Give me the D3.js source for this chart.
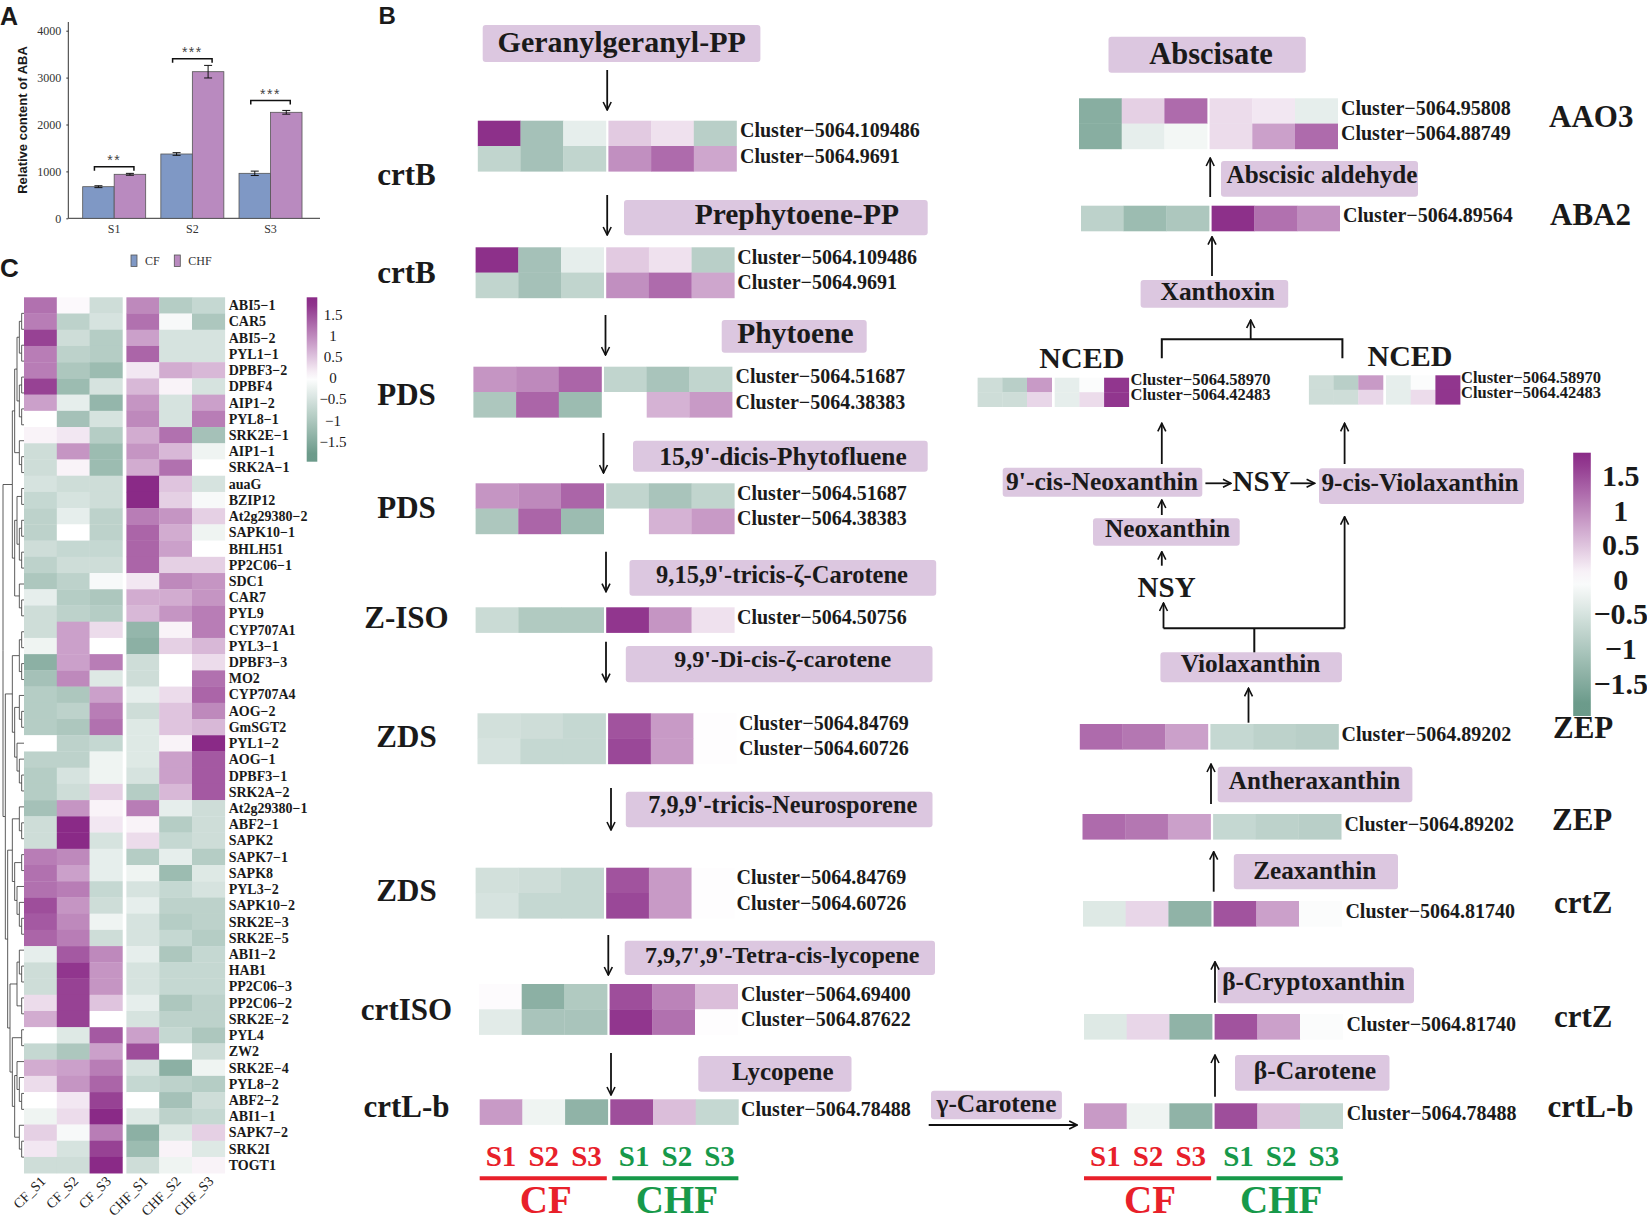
<!DOCTYPE html>
<html>
<head>
<meta charset="utf-8">
<script src="https://cdn.jsdelivr.net/npm/d3@7"></script>
<style>
  body { margin: 0; background: #fff; }
  svg { display: block; }
</style>
</head>
<body>
<script>
// ---------- data: panel A ----------
var stages = ["S1", "S2", "S3"];
var groups = ["CF", "CHF"];
var abaCF = [674, 1371, 959];
var abaCHF = [938, 3126, 2260];
var errCF = [20, 28, 47];
var errCHF = [20, 134, 40];
var sigMarks = ["**", "***", "***"];
var sigLevel = [1100, 3400, 2510];
var yTicksA = [0, 1000, 2000, 3000, 4000];

// ---------- data: panel C ----------
var samples = ["CF_S1", "CF_S2", "CF_S3", "CHF_S1", "CHF_S2", "CHF_S3"];
var genesC = ["ABI5−1", "CAR5", "ABI5−2", "PYL1−1", "DPBF3−2", "DPBF4", "AIP1−2", "PYL8−1",
  "SRK2E−1", "AIP1−1", "SRK2A−1", "auaG", "BZIP12", "At2g29380−2", "SAPK10−1", "BHLH51",
  "PP2C06−1", "SDC1", "CAR7", "PYL9", "CYP707A1", "PYL3−1", "DPBF3−3", "MO2", "CYP707A4",
  "AOG−2", "GmSGT2", "PYL1−2", "AOG−1", "DPBF3−1", "SRK2A−2", "At2g29380−1", "ABF2−1",
  "SAPK2", "SAPK7−1", "SAPK8", "PYL3−2", "SAPK10−2", "SRK2E−3", "SRK2E−5", "ABI1−2", "HAB1",
  "PP2C06−3", "PP2C06−2", "SRK2E−2", "PYL4", "ZW2", "SRK2E−4", "PYL8−2", "ABF2−2", "ABI1−1",
  "SAPK7−2", "SRK2I", "TOGT1"];
var exprC = [
  [1.2, 0.05, -0.6, 1.0, -0.9, -0.7],
  [1.1, -0.8, -0.5, 1.2, -0.1, -1.0],
  [1.6, -0.6, -0.9, 0.8, -0.5, -0.5],
  [1.1, -0.8, -0.9, 1.3, -0.5, -0.5],
  [1.1, -1.0, -1.2, 0.2, 0.7, 0.6],
  [1.6, -1.2, -0.5, 0.6, 0.1, -0.5],
  [0.8, -0.3, -1.3, 0.9, -0.5, 0.8],
  [0.0, -1.1, -0.5, 1.0, -0.5, 1.1],
  [0.1, 0.2, -0.9, 0.7, 1.2, -1.1],
  [-0.6, 0.9, -1.2, 0.9, 0.6, -0.2],
  [-0.6, 0.1, -1.2, 0.7, 1.2, 0.0],
  [-0.5, -0.6, -0.6, 1.8, 0.5, -0.5],
  [-0.7, -0.5, -0.6, 1.8, 0.4, -0.1],
  [-0.8, -0.3, -0.8, 1.1, 0.9, 0.4],
  [-0.8, 0.0, -0.8, 1.3, 0.7, -0.2],
  [-0.6, -0.7, -0.7, 1.3, 0.8, 0.0],
  [-0.8, -0.6, -0.6, 1.3, 0.4, 0.4],
  [-1.0, -0.8, -0.1, 0.2, 1.0, 0.9],
  [-0.3, -0.9, -1.0, 0.7, 0.7, 0.9],
  [-0.6, -0.8, -0.9, 0.6, 0.9, 1.1],
  [-0.6, 0.8, 0.3, -1.3, 0.1, 1.1],
  [-0.2, 0.8, 0.0, -1.4, 0.4, 0.6],
  [-1.4, 0.8, 1.1, -0.6, 0.0, 0.3],
  [-1.1, 1.0, -0.4, -0.6, 0.0, 1.2],
  [-0.9, -1.0, 0.8, -0.3, 0.3, 1.3],
  [-0.9, -0.8, 1.1, -0.6, 0.5, 1.0],
  [-0.9, -1.0, 1.2, -0.4, 0.5, 0.6],
  [0.0, -0.8, -0.7, -0.4, 0.1, 1.8],
  [-0.8, -0.8, -0.2, -0.4, 0.8, 1.4],
  [-0.9, -0.5, -0.2, -0.5, 0.8, 1.4],
  [-0.9, -0.6, 0.4, -0.9, 0.6, 1.4],
  [-1.1, 0.9, 0.1, 1.1, -0.3, -0.6],
  [-0.6, 1.8, 0.2, 0.1, -0.9, -0.6],
  [-0.6, 1.8, -0.5, 0.3, -0.7, -0.6],
  [1.1, 1.0, -0.3, -0.9, -0.3, -0.9],
  [1.2, 0.8, -0.3, -0.2, -1.2, -0.4],
  [1.2, 1.1, -0.7, -0.5, -0.7, -0.5],
  [1.5, 0.9, -0.6, -0.3, -0.8, -0.8],
  [1.4, 1.0, -0.2, -0.5, -0.9, -0.8],
  [1.3, 1.1, -0.6, -0.5, -0.7, -0.9],
  [-0.3, 1.4, 1.0, -0.3, -1.0, -0.7],
  [-0.6, 1.7, 0.9, -0.5, -0.7, -0.7],
  [-0.6, 1.6, 0.9, -0.5, -0.7, -0.7],
  [0.3, 1.6, 0.5, -0.3, -1.0, -0.8],
  [0.7, 1.6, 0.0, -0.5, -0.8, -0.8],
  [0.0, -0.4, 1.4, 0.8, -0.7, -1.0],
  [-0.7, -1.0, 0.8, 1.5, 0.0, -0.6],
  [0.7, 0.8, 1.1, -0.5, -1.4, -0.2],
  [0.3, 0.9, 1.3, -0.7, -0.8, -0.9],
  [0.0, 0.2, 1.6, 0.0, -1.1, -0.6],
  [-0.2, 0.3, 1.8, -0.4, -0.8, -0.7],
  [0.4, -0.1, 1.1, -1.4, -0.4, 0.4],
  [0.2, -0.5, 1.6, -1.2, 0.1, -0.4],
  [-0.6, -0.6, 1.8, -0.6, -0.2, 0.1]
];
// row dendrogram (nested leaves, same order as genesC)
var treeC = [
  [
    [
      [[["ABI5−1", "CAR5"], ["ABI5−2", "PYL1−1"]], [["DPBF3−2", "DPBF4"], ["AIP1−2", "PYL8−1"]]],
      ["SRK2E−1", ["AIP1−1", "SRK2A−1"]]
    ],
    [
      [["auaG", "BZIP12"], [["At2g29380−2", "SAPK10−1"], ["BHLH51", "PP2C06−1"]]],
      ["SDC1", ["CAR7", "PYL9"]]
    ]
  ],
  [
    [
      [["CYP707A1", "PYL3−1"], ["DPBF3−3", "MO2"]],
      [["CYP707A4", ["AOG−2", "GmSGT2"]], ["PYL1−2", ["AOG−1", ["DPBF3−1", "SRK2A−2"]]]]
    ],
    [
      [["At2g29380−1", ["ABF2−1", "SAPK2"]], [["SAPK7−1", "SAPK8"], ["PYL3−2", ["SAPK10−2", ["SRK2E−3", "SRK2E−5"]]]]],
      [[["ABI1−2", ["HAB1", "PP2C06−3"]], ["PP2C06−2", "SRK2E−2"]],
       [["PYL4", "ZW2"], [["SRK2E−4", ["PYL8−2", ["ABF2−2", "ABI1−1"]]], ["SAPK7−2", ["SRK2I", "TOGT1"]]]]]
    ]
  ]
];
var cbTicks = [1.5, 1, 0.5, 0, -0.5, -1, -1.5];

// ---------- data: panel B (z-scores per transcript, CF S1-S3 then CHF S1-S3) ----------
var crtB = [[1.75, -1.1, -0.3, 0.45, 0.25, -0.85], [-0.75, -1.1, -0.75, 0.95, 1.25, 0.75]];
var crtBIds = ["Cluster−5064.109486", "Cluster−5064.9691"];
var pds = [[0.9, 1.0, 1.3, -0.75, -1.05, -0.75], [-1.0, 1.3, -1.2, 0.0, 0.65, 0.85]];
var pdsIds = ["Cluster−5064.51687", "Cluster−5064.38383"];
var ziso = [[-0.65, -0.95, -0.95, 1.7, 0.9, 0.25]];
var zisoIds = ["Cluster−5064.50756"];
var zds = [[-0.55, -0.6, -0.7, 1.45, 0.85, 0.02], [-0.5, -0.7, -0.7, 1.55, 0.85, 0.02]];
var zdsIds = ["Cluster−5064.84769", "Cluster−5064.60726"];
var crtISO = [[0.03, -1.4, -0.95, 1.5, 1.05, 0.55], [-0.35, -1.05, -1.05, 1.7, 1.2, 0.02]];
var crtISOIds = ["Cluster−5064.69400", "Cluster−5064.87622"];
var crtLb = [[0.85, -0.2, -1.35, 1.5, 0.55, -0.7]];
var crtLbIds = ["Cluster−5064.78488"];
var aao3 = [[-1.45, 0.4, 1.25, 0.3, 0.2, -0.3], [-1.45, -0.3, -0.15, 0.3, 0.8, 1.25]];
var aao3Ids = ["Cluster−5064.95808", "Cluster−5064.88749"];
var aba2 = [[-0.8, -1.2, -1.0, 1.75, 1.2, 0.95]];
var aba2Ids = ["Cluster−5064.89564"];
var nced = [[-0.6, -0.85, 0.85, -0.3, -0.05, 1.7], [-0.6, -0.6, 0.35, -0.3, 0.3, 1.7]];
var ncedIds = ["Cluster−5064.58970", "Cluster−5064.42483"];
var zep = [[1.25, 1.15, 0.8, -0.7, -0.8, -0.85]];
var zepIds = ["Cluster−5064.89202"];
var crtZ = [[-0.4, 0.35, -1.35, 1.45, 0.8, -0.05]];
var crtZIds = ["Cluster−5064.81740"];
var stageLabels = ["S1", "S2", "S3"];

// ---------- setup ----------
var SERIF = "'Liberation Serif','Times New Roman',serif";
var SANS = "'Liberation Sans',Arial,sans-serif";
var svg = d3.select("body").append("svg").attr("width", 1647).attr("height", 1222);
var defs = svg.append("defs");

var heatColor = d3.scaleLinear()
  .domain([-1.8, 0, 1.8])
  .range(["#6b9a8a", "#ffffff", "#8a2a87"])
  .clamp(true);

function txt(g, s, x, y, o) {
  o = o || {};
  return g.append("text")
    .attr("x", x).attr("y", y)
    .attr("font-family", o.ff || SERIF)
    .attr("font-size", o.fs || 20)
    .attr("font-weight", o.fw || "bold")
    .attr("text-anchor", o.anchor || "start")
    .attr("fill", o.fill || "#1a1a1a")
    .text(s);
}

defs.append("marker")
  .attr("id", "head")
  .attr("markerUnits", "userSpaceOnUse")
  .attr("viewBox", "0 -5 10 10")
  .attr("refX", 9).attr("refY", 0)
  .attr("markerWidth", 10).attr("markerHeight", 10)
  .attr("orient", "auto")
  .append("path")
  .attr("d", "M1,-4L9,0L1,4")
  .attr("fill", "none")
  .attr("stroke", "#111")
  .attr("stroke-width", 1.6);

// ================= Panel A =================
var gA = svg.append("g");
txt(gA, "A", 0, 25, { ff: SANS, fs: 25 });

var xA = d3.scaleBand().domain(stages).range([68.3, 316.4]).paddingInner(0.194).paddingOuter(0.184);
var xSub = d3.scaleBand().domain(groups).range([0, xA.bandwidth()]);
var yA = d3.scaleLinear().domain([0, 4000]).range([218.3, 30.7]);
var barColor = d3.scaleOrdinal().domain(groups).range(["#7f98c5", "#b98abf"]);

var yAxisA = gA.append("g").attr("transform", "translate(68.3,0)")
  .call(d3.axisLeft(yA).tickValues(yTicksA).tickFormat(d3.format("d")).tickSize(2).tickPadding(5));
yAxisA.select(".domain").remove();
yAxisA.selectAll("text").attr("font-family", SERIF).attr("font-size", 12).attr("fill", "#333");
yAxisA.selectAll("line").attr("stroke", "#333");
gA.append("line").attr("x1", 68.3).attr("x2", 68.3).attr("y1", 22).attr("y2", 218.3)
  .attr("stroke", "#333").attr("stroke-width", 1);

var xAxisA = gA.append("g").attr("transform", "translate(0,218.3)")
  .call(d3.axisBottom(xA).tickSize(0).tickPadding(6));
xAxisA.select(".domain").remove();
xAxisA.selectAll("text").attr("font-family", SERIF).attr("font-size", 12).attr("fill", "#333");
gA.append("line").attr("x1", 68.3).attr("x2", 320).attr("y1", 218.3).attr("y2", 218.3)
  .attr("stroke", "#333").attr("stroke-width", 1);

gA.append("text")
  .attr("transform", "translate(27,120) rotate(-90)")
  .attr("text-anchor", "middle")
  .attr("font-family", SANS).attr("font-weight", "bold").attr("font-size", 13)
  .attr("fill", "#1a1a1a")
  .text("Relative content of ABA");

var barData = [];
stages.forEach(function(s, i) {
  barData.push({ s: s, grp: "CF", v: abaCF[i], e: errCF[i] });
  barData.push({ s: s, grp: "CHF", v: abaCHF[i], e: errCHF[i] });
});

gA.selectAll("rect.bar").data(barData).enter().append("rect")
  .attr("class", "bar")
  .attr("x", d => xA(d.s) + xSub(d.grp))
  .attr("y", d => yA(d.v))
  .attr("width", xSub.bandwidth())
  .attr("height", d => yA(0) - yA(d.v))
  .attr("fill", d => barColor(d.grp))
  .attr("stroke", "#555")
  .attr("stroke-width", 0.8);

var errG = gA.selectAll("g.err").data(barData).enter().append("g").attr("class", "err")
  .attr("transform", d => `translate(${xA(d.s) + xSub(d.grp) + xSub.bandwidth() / 2},0)`);
errG.append("line").attr("y1", d => yA(d.v - d.e)).attr("y2", d => yA(d.v + d.e))
  .attr("stroke", "#111").attr("stroke-width", 1);
errG.append("line").attr("x1", -4).attr("x2", 4).attr("y1", d => yA(d.v + d.e)).attr("y2", d => yA(d.v + d.e))
  .attr("stroke", "#111").attr("stroke-width", 1);
errG.append("line").attr("x1", -4).attr("x2", 4).attr("y1", d => yA(d.v - d.e)).attr("y2", d => yA(d.v - d.e))
  .attr("stroke", "#111").attr("stroke-width", 1);

stages.forEach(function(s, i) {
  var x1 = xA(s) + xSub("CF") + xSub.bandwidth() / 2 - 4;
  var x2 = xA(s) + xSub("CHF") + xSub.bandwidth() / 2 + 4;
  var y = yA(sigLevel[i]);
  gA.append("path")
    .attr("d", `M${x1},${y + 4}V${y}H${x2}V${y + 4}`)
    .attr("fill", "none").attr("stroke", "#111").attr("stroke-width", 1.5);
  txt(gA, sigMarks[i], (x1 + x2) / 2, y - 2, { ff: SANS, fs: 14, fw: "normal", anchor: "middle", fill: "#444" })
    .attr("letter-spacing", 1.5);
});

// legend
groups.forEach(function(gname, i) {
  var lx = [131, 174.3][i];
  gA.append("rect").attr("x", lx).attr("y", 255).attr("width", 6).attr("height", 11.5)
    .attr("fill", barColor(gname)).attr("stroke", "#555").attr("stroke-width", 0.8);
  txt(gA, gname, lx + 14, 265, { fs: 12, fw: "normal", fill: "#333" });
});

// ================= Panel C =================
var gC = svg.append("g");
txt(gC, "C", 0, 277, { ff: SANS, fs: 26 });

var cwC = 32.8, gapC = 4, rowH = 16.22, topC = 297.3, leftC = 24;
var xC = d3.scaleBand().domain(samples).range([0, 6 * cwC]);
var yC = d3.scaleBand().domain(genesC).range([topC, topC + genesC.length * rowH]);
function colX(s) { return leftC + xC(s) + (samples.indexOf(s) >= 3 ? gapC : 0); }

genesC.forEach(function(gene, i) {
  gC.selectAll(null).data(exprC[i]).enter().append("rect")
    .attr("x", (d, j) => colX(samples[j]))
    .attr("y", yC(gene))
    .attr("width", xC.bandwidth() + 0.3)
    .attr("height", yC.bandwidth() + 0.3)
    .attr("fill", d => heatColor(d));
  txt(gC, gene, 228.7, yC(gene) + rowH / 2 + 4.8, { fs: 14 });
});

samples.forEach(function(s) {
  var cx = colX(s) + cwC / 2 + 6;
  gC.append("text")
    .attr("transform", `translate(${cx},1182) rotate(-45)`)
    .attr("text-anchor", "end")
    .attr("font-family", SERIF).attr("font-size", 14).attr("fill", "#222")
    .text(s);
});

// dendrogram
var root = d3.hierarchy(treeC, d => Array.isArray(d) ? d : null);
d3.cluster().size([(genesC.length - 1) * rowH, 21]).separation(() => 1)(root);
var dg = gC.append("g").attr("transform", `translate(3,${topC + rowH / 2})`);
dg.selectAll("path").data(root.links()).enter().append("path")
  .attr("d", l => `M${l.source.y},${l.source.x}V${l.target.x}H${l.target.y}`)
  .attr("fill", "none").attr("stroke", "#333").attr("stroke-width", 0.8);

// colorbar helper
function colorbar(g, id, x, y0, y1, w, scale, fs, fw, lx) {
  var vTop = scale.invert(y0), vBot = scale.invert(y1);
  var lg = defs.append("linearGradient").attr("id", id)
    .attr("x1", 0).attr("y1", 0).attr("x2", 0).attr("y2", 1);
  d3.range(0, 1.0001, 0.05).forEach(function(t) {
    lg.append("stop").attr("offset", t).attr("stop-color", heatColor(vTop + t * (vBot - vTop)));
  });
  g.append("rect").attr("x", x).attr("y", y0).attr("width", w).attr("height", y1 - y0)
    .attr("fill", `url(#${id})`);
  cbTicks.forEach(function(v) {
    txt(g, String(v).replace("-", "−"), lx, scale(v) + fs * 0.34, { fs: fs, fw: fw, anchor: "middle" });
  });
}
var cbScaleC = d3.scaleLinear().domain([-1.5, 1.5]).range([441.7, 314.4]);
colorbar(gC, "gradC", 306.7, 297.3, 461.7, 10.6, cbScaleC, 15, "normal", 333);

// ================= Panel B =================
var gB = svg.append("g");
txt(gB, "B", 378.6, 23.5, { ff: SANS, fs: 24 });

function drawHeat(g, vals, ids, L) {
  var cw = L.cw || 42.7, ch = L.ch || 25.3, gap = L.gap == null ? 2.5 : L.gap;
  var xb = d3.scaleBand().domain(samples).range([0, 6 * cw]);
  var yb = d3.scaleBand().domain(d3.range(vals.length)).range([0, vals.length * ch]);
  var hg = g.append("g").attr("transform", `translate(${L.x},${L.y})`);
  vals.forEach(function(row, i) {
    hg.selectAll(null).data(row).enter().append("rect")
      .attr("x", (d, j) => xb(samples[j]) + (j >= 3 ? gap : 0))
      .attr("y", yb(i))
      .attr("width", xb.bandwidth() + 0.3)
      .attr("height", yb.bandwidth() + 0.3)
      .attr("fill", d => heatColor(d));
  });
  ids.forEach(function(id, i) {
    txt(g, id, L.lx, L.y + yb(i) + ch / 2 + (L.dy == null ? 4 : L.dy), { fs: L.fs || 20 });
  });
  return { xb: xb, gap: gap, x: L.x, cw: cw };
}

var heatLayout = [
  { vals: crtB, ids: crtBIds, x: 477.8, y: 120.7, lx: 740 },
  { vals: crtB, ids: crtBIds, x: 475.6, y: 247.3, lx: 737.3 },
  { vals: pds, ids: pdsIds, x: 473.4, y: 366.7, lx: 735.5 },
  { vals: pds, ids: pdsIds, x: 475.6, y: 483.3, lx: 737 },
  { vals: ziso, ids: zisoIds, x: 475.6, y: 607.3, lx: 737 },
  { vals: zds, ids: zdsIds, x: 477.5, y: 713.3, lx: 739 },
  { vals: zds, ids: zdsIds, x: 475.6, y: 867.7, lx: 736.6 },
  { vals: crtISO, ids: crtISOIds, x: 479, y: 984, lx: 741 },
  { vals: crtLb, ids: crtLbIds, x: 479.7, y: 1099.3, lx: 741 },
  { vals: aao3, ids: aao3Ids, x: 1079, y: 98.3, lx: 1341 },
  { vals: aba2, ids: aba2Ids, x: 1081, y: 205.7, lx: 1343 },
  { vals: nced, ids: ncedIds, x: 977.6, y: 377.7, lx: 1130.5, cw: 24.7, ch: 14.5, gap: 3, fs: 16.5, dy: 0.5 },
  { vals: nced, ids: ncedIds, x: 1308.9, y: 375.3, lx: 1461, cw: 24.7, ch: 14.5, gap: 3, fs: 16.5, dy: 0.5 },
  { vals: zep, ids: zepIds, x: 1079.8, y: 724, lx: 1341.5 },
  { vals: zep, ids: zepIds, x: 1082.5, y: 814, lx: 1344.4 },
  { vals: crtZ, ids: crtZIds, x: 1083, y: 901, lx: 1345.4 },
  { vals: crtZ, ids: crtZIds, x: 1084, y: 1014, lx: 1346.4 },
  { vals: crtLb, ids: crtLbIds, x: 1084, y: 1103.3, lx: 1346.8 }
];
var drawn = heatLayout.map(L => drawHeat(gB, L.vals, L.ids, L));

// enzyme labels
var enzymeLabels = [
  ["crtB", 406.5, 185, "middle"], ["crtB", 406.5, 283, "middle"],
  ["PDS", 406.5, 405, "middle"], ["PDS", 406.5, 518, "middle"],
  ["Z-ISO", 406.5, 628.3, "middle"], ["ZDS", 406.5, 746.7, "middle"],
  ["ZDS", 406.5, 901, "middle"], ["crtISO", 406.5, 1020, "middle"],
  ["crtL-b", 406.5, 1116.7, "middle"],
  ["AAO3", 1549, 127.3, "start"], ["ABA2", 1550, 225, "start"],
  ["ZEP", 1553, 738.3, "start"], ["ZEP", 1552, 830, "start"],
  ["crtZ", 1554, 912.7, "start"], ["crtZ", 1554, 1026.7, "start"],
  ["crtL-b", 1547.5, 1116.7, "start"],
  ["NCED", 1039.3, 368.3, "start"], ["NCED", 1367.5, 366, "start"],
  ["NSY", 1166.6, 596.7, "middle"], ["NSY", 1261.5, 490.7, "middle"]
];
enzymeLabels.forEach(function(e) {
  var fs = e[0] === "NCED" ? 30 : (e[0] === "NSY" ? 29 : 31);
  txt(gB, e[0], e[1], e[2], { fs: fs, anchor: e[3] });
});

// metabolite boxes: text, x, y, w, h, text centre, baseline, font size
var boxes = [
  ["Geranylgeranyl-PP", 482.7, 25, 277.7, 37, 621.7, 51.7, 30],
  ["Prephytoene-PP", 624, 200, 303.7, 35.3, 796.8, 223.5, 29.5],
  ["Phytoene", 721.7, 320, 145, 32.7, 795.5, 343.3, 29.5],
  ["15,9'-dicis-Phytofluene", 633, 440.7, 294.7, 31, 783, 465, 25.4],
  ["9,15,9'-tricis-ζ-Carotene", 629.5, 560, 306.7, 35.7, 782, 582.7, 24.5],
  ["9,9'-Di-cis-ζ-carotene", 625.8, 646, 306.7, 36.3, 782.7, 666.7, 24],
  ["7,9,9'-tricis-Neurosporene", 625.8, 791.7, 306.7, 35.6, 782.7, 813.3, 24.3],
  ["7,9,7',9'-Tetra-cis-lycopene", 624.7, 940.7, 310.3, 34.3, 782.3, 963.3, 24],
  ["Lycopene", 698.3, 1056, 153.2, 35.7, 782.8, 1080, 25],
  ["Abscisate", 1108.5, 36.7, 197.3, 36, 1211, 64, 30.5],
  ["Abscisic aldehyde", 1221, 161, 197, 35.7, 1322, 183.3, 25.2],
  ["Xanthoxin", 1140.6, 280, 147.6, 27.7, 1217.7, 300, 25.4],
  ["9'-cis-Neoxanthin", 1002.7, 467.7, 199.6, 29, 1102, 490, 25.6],
  ["9-cis-Violaxanthin", 1319, 468.3, 205, 35.7, 1420, 490.7, 25.3],
  ["Neoxanthin", 1093, 518.3, 146.7, 27.4, 1167.5, 536.7, 25.3],
  ["Violaxanthin", 1160.4, 652.3, 181.5, 30, 1250.5, 671.7, 25.3],
  ["Antheraxanthin", 1217.7, 766.7, 194.7, 35.6, 1314.6, 789.3, 25.1],
  ["Zeaxanthin", 1233.8, 854, 164.2, 35.3, 1314.8, 879.3, 25.2],
  ["β-Cryptoxanthin", 1217.5, 967.3, 196.5, 36, 1313.5, 990, 25.4],
  ["β-Carotene", 1235, 1055, 154.5, 35.7, 1315, 1079.3, 25.6],
  ["γ-Carotene", 931, 1090.7, 130.9, 28.6, 996.5, 1111.7, 25.4]
];
boxes.forEach(function(b) {
  gB.append("rect").attr("x", b[1]).attr("y", b[2]).attr("width", b[3]).attr("height", b[4])
    .attr("rx", 3).attr("fill", "#dcc7e0");
  txt(gB, b[0], b[5], b[6], { fs: b[7], anchor: "middle" });
});

// arrows (x1, y1 -> x2, y2, head at end)
var arrows = [
  [607.2, 70, 607.2, 110], [607.2, 195, 607.2, 235], [605.5, 315, 605.5, 355],
  [603.5, 433, 603.5, 473], [606, 551.7, 606, 591.7], [606, 641.7, 606, 681.7],
  [611, 788, 611, 830], [608.3, 935, 608.3, 975], [611, 1053, 611, 1095],
  [1210.2, 197, 1210.2, 158], [1212, 276, 1212, 236.7], [1250.7, 339.3, 1250.7, 320],
  [1161.8, 464, 1161.8, 423.3], [1344.6, 464, 1344.6, 423.3],
  [1161.8, 515, 1161.8, 500], [1161.8, 565.7, 1161.8, 551.7],
  [1163.5, 628.3, 1163.5, 603], [1344.6, 628.3, 1344.6, 516.7],
  [1248.5, 722.7, 1248.5, 688.3], [1211, 804, 1211, 764],
  [1213.7, 891.7, 1213.7, 851.7], [1215, 1002.7, 1215, 961.7], [1215, 1096.7, 1215, 1055],
  [1205.4, 483.3, 1231, 483.3], [1290.4, 483.3, 1314.6, 483.3],
  [928.7, 1125, 1077.2, 1125]
];
gB.selectAll("line.arrow").data(arrows).enter().append("line")
  .attr("class", "arrow")
  .attr("x1", d => d[0]).attr("y1", d => d[1]).attr("x2", d => d[2]).attr("y2", d => d[3])
  .attr("stroke", "#111").attr("stroke-width", 1.8)
  .attr("marker-end", "url(#head)");

// connector brackets
var connectors = [
  "M1161.8,358.3V339.3H1342.4V358.3",
  "M1163.5,628.3H1344.6",
  "M1254.3,628.3V652.3"
];
gB.selectAll("path.conn").data(connectors).enter().append("path")
  .attr("class", "conn").attr("d", d => d)
  .attr("fill", "none").attr("stroke", "#111").attr("stroke-width", 2);

// group labels under the bottom heatmaps
[drawn[8], drawn[17]].forEach(function(h) {
  var cfColor = "#e8202a", chfColor = "#17994a";
  samples.forEach(function(s, j) {
    var cx = h.x + h.xb(s) + (j >= 3 ? h.gap : 0) + h.cw / 2;
    txt(gB, stageLabels[j % 3], cx + (j >= 3 ? 2.5 : 0), 1166,
      { fs: 29, anchor: "middle", fill: j < 3 ? cfColor : chfColor });
  });
  var cfL = h.x, cfR = h.x + 3 * h.cw;
  var chL = h.x + 3 * h.cw + h.gap + 1, chR = h.x + 6 * h.cw + h.gap;
  gB.append("line").attr("x1", cfL).attr("x2", cfR - 1).attr("y1", 1178.3).attr("y2", 1178.3)
    .attr("stroke", cfColor).attr("stroke-width", 4);
  gB.append("line").attr("x1", chL + 1).attr("x2", chR).attr("y1", 1178.3).attr("y2", 1178.3)
    .attr("stroke", chfColor).attr("stroke-width", 4);
  txt(gB, "CF", (cfL + cfR) / 2 + 2, 1213, { fs: 39, anchor: "middle", fill: cfColor });
  txt(gB, "CHF", (chL + chR) / 2 + 2, 1213, { fs: 39, anchor: "middle", fill: chfColor });
});

// colorbar B
var cbScaleB = d3.scaleLinear().domain([-1.5, 1.5]).range([683.3, 476]);
colorbar(gB, "gradB", 1573.2, 452.7, 716, 17.6, cbScaleB, 30, "bold", 1620.8);
</script>
</body>
</html>
